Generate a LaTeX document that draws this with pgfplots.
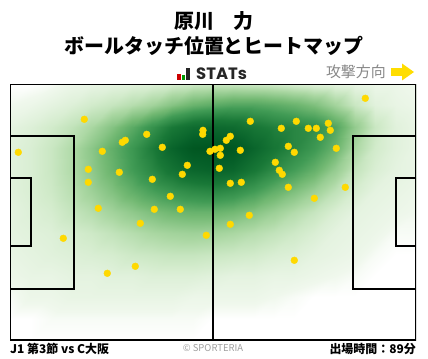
\documentclass[border=0pt]{standalone}
\usepackage{pgfplots}
\pgfplotsset{compat=1.18}
\usepackage{fontspec}
\setmainfont{Noto Sans CJK JP}
\newfontfamily\pop{Poppins}
\definecolor{dotc}{RGB}{255,217,0}
\definecolor{arrowc}{RGB}{255,221,0}
\definecolor{graytxt}{RGB}{135,135,135}
\begin{document}
\begin{tikzpicture}[x=1bp,y=1bp]
\useasboundingbox (0,0) rectangle (428,359);
\begin{axis}[at={(10bp,19bp)}, anchor=south west, scale only axis,
  width=406bp, height=256bp, xmin=10, xmax=416, ymin=84, ymax=340,
  y dir=reverse, hide axis, clip=true,
  colormap={greens}{rgb255(0pt)=(255,255,255) rgb255(2pt)=(240,248,237) rgb255(10pt)=(210,235,203) rgb255(20pt)=(170,215,162) rgb255(35pt)=(115,185,115) rgb255(50pt)=(65,155,85) rgb255(70pt)=(25,120,55) rgb255(90pt)=(5,95,40) rgb255(100pt)=(0,85,32)},
  point meta min=0, point meta max=1]
\addplot[surf, shader=interp, mesh/cols=21, point meta=explicit] table[row sep=\\, meta=v] {
x y v \\
10 84 0 \\ 30 84 0 \\ 51 84 0.01 \\ 71 84 0.03 \\ 91 84 0.04 \\ 112 84 0.05 \\ 132 84 0.06 \\ 152 84 0.07 \\ 172 84 0.09 \\ 193 84 0.11 \\ 213 84 0.12 \\ 233 84 0.12 \\ 254 84 0.11 \\ 274 84 0.1 \\ 294 84 0.08 \\ 314 84 0.06 \\ 335 84 0.05 \\ 355 84 0.04 \\ 375 84 0.03 \\ 396 84 0.03 \\ 416 84 0.02 \\
10 105 0.02 \\ 30 105 0.03 \\ 51 105 0.05 \\ 71 105 0.07 \\ 91 105 0.1 \\ 112 105 0.13 \\ 132 105 0.17 \\ 152 105 0.22 \\ 172 105 0.3 \\ 193 105 0.38 \\ 213 105 0.42 \\ 233 105 0.45 \\ 254 105 0.45 \\ 274 105 0.42 \\ 294 105 0.38 \\ 314 105 0.32 \\ 335 105 0.22 \\ 355 105 0.12 \\ 375 105 0.06 \\ 396 105 0.04 \\ 416 105 0.03 \\
10 127 0.05 \\ 30 127 0.07 \\ 51 127 0.1 \\ 71 127 0.14 \\ 91 127 0.2 \\ 112 127 0.3 \\ 132 127 0.42 \\ 152 127 0.55 \\ 172 127 0.7 \\ 193 127 0.8 \\ 213 127 0.82 \\ 233 127 0.8 \\ 254 127 0.72 \\ 274 127 0.66 \\ 294 127 0.62 \\ 314 127 0.58 \\ 335 127 0.45 \\ 355 127 0.26 \\ 375 127 0.12 \\ 396 127 0.06 \\ 416 127 0.04 \\
10 148 0.06 \\ 30 148 0.08 \\ 51 148 0.12 \\ 71 148 0.18 \\ 91 148 0.28 \\ 112 148 0.4 \\ 132 148 0.52 \\ 152 148 0.68 \\ 172 148 0.86 \\ 193 148 0.98 \\ 213 148 1.0 \\ 233 148 0.98 \\ 254 148 0.85 \\ 274 148 0.72 \\ 294 148 0.62 \\ 314 148 0.52 \\ 335 148 0.38 \\ 355 148 0.2 \\ 375 148 0.1 \\ 396 148 0.06 \\ 416 148 0.04 \\
10 169 0.06 \\ 30 169 0.08 \\ 51 169 0.12 \\ 71 169 0.18 \\ 91 169 0.27 \\ 112 169 0.38 \\ 132 169 0.5 \\ 152 169 0.62 \\ 172 169 0.75 \\ 193 169 0.85 \\ 213 169 0.88 \\ 233 169 0.85 \\ 254 169 0.72 \\ 274 169 0.6 \\ 294 169 0.5 \\ 314 169 0.4 \\ 335 169 0.26 \\ 355 169 0.14 \\ 375 169 0.08 \\ 396 169 0.05 \\ 416 169 0.04 \\
10 191 0.06 \\ 30 191 0.08 \\ 51 191 0.11 \\ 71 191 0.16 \\ 91 191 0.23 \\ 112 191 0.31 \\ 132 191 0.4 \\ 152 191 0.48 \\ 172 191 0.55 \\ 193 191 0.6 \\ 213 191 0.62 \\ 233 191 0.58 \\ 254 191 0.5 \\ 274 191 0.4 \\ 294 191 0.32 \\ 314 191 0.24 \\ 335 191 0.15 \\ 355 191 0.09 \\ 375 191 0.05 \\ 396 191 0.04 \\ 416 191 0.03 \\
10 212 0.05 \\ 30 212 0.07 \\ 51 212 0.09 \\ 71 212 0.13 \\ 91 212 0.17 \\ 112 212 0.22 \\ 132 212 0.27 \\ 152 212 0.32 \\ 172 212 0.36 \\ 193 212 0.38 \\ 213 212 0.38 \\ 233 212 0.35 \\ 254 212 0.3 \\ 274 212 0.24 \\ 294 212 0.18 \\ 314 212 0.13 \\ 335 212 0.08 \\ 355 212 0.05 \\ 375 212 0.04 \\ 396 212 0.03 \\ 416 212 0.02 \\
10 233 0.05 \\ 30 233 0.06 \\ 51 233 0.07 \\ 71 233 0.09 \\ 91 233 0.11 \\ 112 233 0.14 \\ 132 233 0.17 \\ 152 233 0.2 \\ 172 233 0.22 \\ 193 233 0.23 \\ 213 233 0.22 \\ 233 233 0.2 \\ 254 233 0.17 \\ 274 233 0.14 \\ 294 233 0.11 \\ 314 233 0.08 \\ 335 233 0.05 \\ 355 233 0.04 \\ 375 233 0.03 \\ 396 233 0.01 \\ 416 233 0.01 \\
10 255 0.04 \\ 30 255 0.05 \\ 51 255 0.06 \\ 71 255 0.07 \\ 91 255 0.08 \\ 112 255 0.09 \\ 132 255 0.11 \\ 152 255 0.12 \\ 172 255 0.13 \\ 193 255 0.13 \\ 213 255 0.12 \\ 233 255 0.11 \\ 254 255 0.1 \\ 274 255 0.08 \\ 294 255 0.07 \\ 314 255 0.05 \\ 335 255 0.04 \\ 355 255 0.03 \\ 375 255 0.01 \\ 396 255 0 \\ 416 255 0 \\
10 276 0.03 \\ 30 276 0.04 \\ 51 276 0.04 \\ 71 276 0.05 \\ 91 276 0.05 \\ 112 276 0.06 \\ 132 276 0.06 \\ 152 276 0.07 \\ 172 276 0.07 \\ 193 276 0.07 \\ 213 276 0.06 \\ 233 276 0.05 \\ 254 276 0.05 \\ 274 276 0.04 \\ 294 276 0.04 \\ 314 276 0.03 \\ 335 276 0.02 \\ 355 276 0.01 \\ 375 276 0 \\ 396 276 0 \\ 416 276 0 \\
10 297 0.01 \\ 30 297 0.03 \\ 51 297 0.03 \\ 71 297 0.04 \\ 91 297 0.04 \\ 112 297 0.04 \\ 132 297 0.04 \\ 152 297 0.04 \\ 172 297 0.04 \\ 193 297 0.03 \\ 213 297 0.03 \\ 233 297 0.03 \\ 254 297 0.03 \\ 274 297 0.02 \\ 294 297 0.01 \\ 314 297 0 \\ 335 297 0 \\ 355 297 0 \\ 375 297 0 \\ 396 297 0 \\ 416 297 0 \\
10 319 0 \\ 30 319 0 \\ 51 319 0.01 \\ 71 319 0.01 \\ 91 319 0.01 \\ 112 319 0.01 \\ 132 319 0.01 \\ 152 319 0.01 \\ 172 319 0.01 \\ 193 319 0.01 \\ 213 319 0 \\ 233 319 0 \\ 254 319 0 \\ 274 319 0 \\ 294 319 0 \\ 314 319 0 \\ 335 319 0 \\ 355 319 0 \\ 375 319 0 \\ 396 319 0 \\ 416 319 0 \\
10 340 0 \\ 30 340 0 \\ 51 340 0 \\ 71 340 0 \\ 91 340 0 \\ 112 340 0 \\ 132 340 0 \\ 152 340 0 \\ 172 340 0 \\ 193 340 0 \\ 213 340 0 \\ 233 340 0 \\ 254 340 0 \\ 274 340 0 \\ 294 340 0 \\ 314 340 0 \\ 335 340 0 \\ 355 340 0 \\ 375 340 0 \\ 396 340 0 \\ 416 340 0 \\
};
% pitch lines
\addplot[black, line width=1.8bp, line join=miter] coordinates {(10,84) (416,84) (416,340) (10,340) (10,84)};
\addplot[black, line width=1.8bp] coordinates {(213,84) (213,340)};
\addplot[black, line width=1.8bp, line join=miter] coordinates {(10,135.7) (74,135.7) (74,288.7) (10,288.7)};
\addplot[black, line width=1.8bp, line join=miter] coordinates {(10,177.7) (31,177.7) (31,246) (10,246)};
\addplot[black, line width=1.8bp, line join=miter] coordinates {(416,135.7) (352.7,135.7) (352.7,288.7) (416,288.7)};
\addplot[black, line width=1.8bp, line join=miter] coordinates {(416,177.7) (395.7,177.7) (395.7,246) (416,246)};
% touches
\addplot[only marks, mark=*, mark size=3.4bp, color=dotc, mark options={draw=none, fill=dotc}] coordinates {
(84.3,119.3) (18.3,152.3) (146.7,134.3) (122.3,142.3) (125.3,140.3) (102.3,151.3)
(162.3,147.3) (203,130.3) (202.7,134.3) (210,151.3) (88.3,169.3) (88.3,182.3)
(119.3,172.3) (152.3,179.3) (187.3,165.3) (182.3,174.3) (170.3,196.3) (98.3,208.3)
(154.3,209.3) (180.3,209.3)
(365.3,98.3) (250.3,121.3) (281.3,128.3) (296.3,121.3) (308.3,128.3) (316.3,128.3)
(328.3,123.3) (330.3,130.3) (320.3,137.3) (336.3,148.3) (226.3,140.3) (230.3,136.3)
(215,149.3) (220.3,148.3) (220.3,155.3) (240.3,150.3) (288.3,146.3) (294.3,152.3)
(275.3,162.3) (219.3,168.3) (279.3,170.3) (282.3,174.3) (230.3,183.3) (241.3,182.3)
(288.3,187.3) (345.3,187.3) (314.3,198.3) (249.3,215.3)
(140.3,223.3) (63.3,238.3) (206.3,235.3) (135.3,266.3) (107.3,273.3)
(230.3,224.3) (294.3,260.3)
};
\end{axis}
% titles
\node[font=\fontsize{20}{22}\selectfont\bfseries] at (214,338) {原川　力};
\node[font=\fontsize{20}{22}\selectfont\bfseries] at (214,313) {ボールタッチ位置とヒートマップ};
% STATs logo
\fill[red!80!black] (177,279) rectangle (181,285);
\fill[green!60!black] (181.8,279) rectangle (184.8,284);
\fill[black!85] (186,279) rectangle (190,291);
\node[anchor=west, font=\pop\fontsize{16.5}{18}\selectfont\bfseries, text=black!85, inner sep=0pt] at (196,285.5) {STATs};
% direction
\node[anchor=east, font=\fontsize{15}{17}\selectfont, text=graytxt, inner sep=0pt] at (386,287) {攻撃方向};
\fill[arrowc] (391,283) rectangle (403.5,291);
\fill[arrowc] (402,295.5) -- (414,287) -- (402,278.5) -- cycle;
% footer
\node[anchor=west, font=\fontsize{12}{14}\selectfont\bfseries, inner sep=0pt] at (10,10) {J1 第3節 vs C大阪};
\node[font=\fontsize{9.5}{11}\selectfont, text=graytxt!80, inner sep=0pt] at (213,11) {© SPORTERIA};
\node[anchor=east, font=\fontsize{12}{14}\selectfont\bfseries, inner sep=0pt] at (416,10) {出場時間：89分};
\end{tikzpicture}
\end{document}
